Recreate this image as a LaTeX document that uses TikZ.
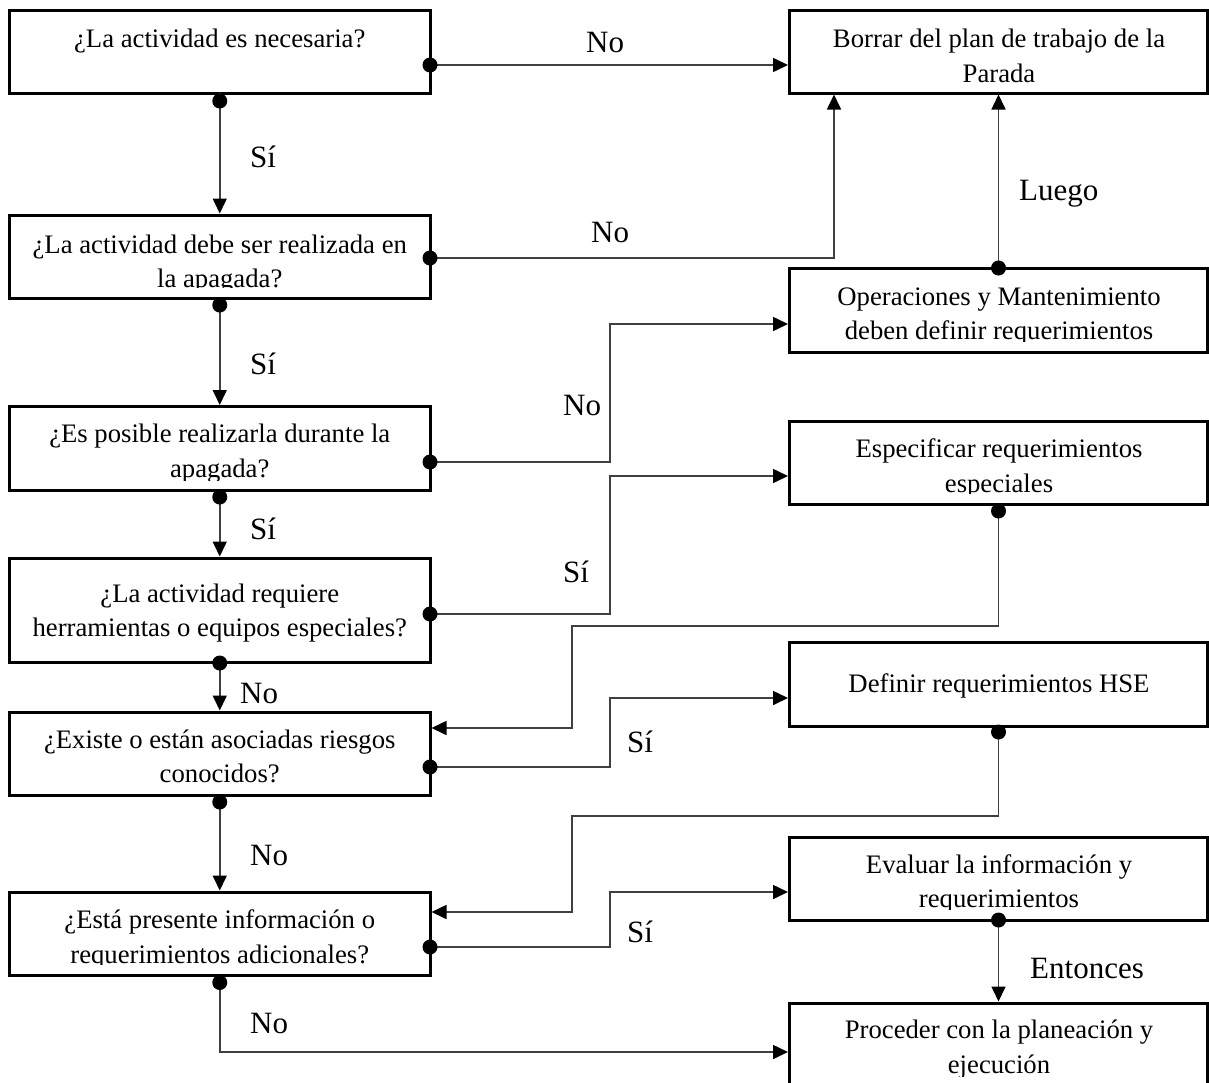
\documentclass[tikz,border=0pt]{standalone}
\usepackage{fontspec}
\setmainfont{Liberation Serif}
\usetikzlibrary{arrows.meta}

\begin{document}
\begin{tikzpicture}[x=1pt,y=1pt,
  flowbox/.style={draw=black, line width=3pt, inner sep=0pt, outer sep=0pt},
  qbox/.style={flowbox, minimum width=420.5pt},
  abox/.style={flowbox, minimum width=418pt},
  boxtext/.style={anchor=base, inner sep=0pt, font=\fontsize{26.7pt}{34pt}\selectfont},
  lbl/.style={anchor=base west, inner sep=0pt, font=\fontsize{31pt}{36pt}\selectfont},
  link/.style={draw=black!75, line width=1.6pt},
  conn/.style={link, shorten >=1.5pt, -{Triangle[length=15pt,width=14pt,color=black]}},
  dot/.style={fill=black},
]
\useasboundingbox (0,0) rectangle (1209,-1082);
\clip (0,0) rectangle (1209,-1082);

% ---------- question boxes (left column) ----------
\node[qbox, minimum height=83pt]  (q1) at (219.75,-51.5) {};
\node[qbox, minimum height=83pt]  (q2) at (219.75,-256.5) {};
\node[qbox, minimum height=84pt]  (q3) at (219.75,-448.5) {};
\node[qbox, minimum height=104pt] (q4) at (219.75,-610) {};
\node[qbox, minimum height=83pt]  (q5) at (219.75,-753.5) {};
\node[qbox, minimum height=83pt]  (q6) at (219.75,-933.5) {};

% ---------- action boxes (right column) ----------
\node[abox, minimum height=83pt] (r1) at (998.5,-51.5) {};
\node[abox, minimum height=84pt] (r2) at (998.5,-310) {};
\node[abox, minimum height=83pt] (r3) at (998.5,-462.5) {};
\node[abox, minimum height=84pt] (r4) at (998.5,-684) {};
\node[abox, minimum height=83pt] (r5) at (998.5,-878.5) {};
\node[abox, minimum height=84pt] (r6) at (998.5,-1045) {};

% ---------- box texts, clipped to the inner text area ----------
\begin{scope}
  \clip ([yshift=10.5pt]q1.south west) rectangle (q1.north east);
  \node[boxtext] (q1a) at (219.75,-47) {¿La actividad es necesaria?};
\end{scope}
\begin{scope}
  \clip ([yshift=10.5pt]q2.south west) rectangle (q2.north east);
  \node[boxtext] (q2a) at (219.75,-253) {¿La actividad debe ser realizada en};
  \node[boxtext] (q2b) at (219.75,-287) {la apagada?};
\end{scope}
\begin{scope}
  \clip ([yshift=10.5pt]q3.south west) rectangle (q3.north east);
  \node[boxtext] (q3a) at (219.75,-442) {¿Es posible realizarla durante la};
  \node[boxtext] (q3b) at (219.75,-477) {apagada?};
\end{scope}
\begin{scope}
  \clip ([yshift=10.5pt]q4.south west) rectangle (q4.north east);
  \node[boxtext] (q4a) at (219.75,-602) {¿La actividad requiere};
  \node[boxtext] (q4b) at (219.75,-636) {herramientas o equipos especiales?};
\end{scope}
\begin{scope}
  \clip ([yshift=10.5pt]q5.south west) rectangle (q5.north east);
  \node[boxtext] (q5a) at (219.75,-748) {¿Existe o están asociadas riesgos};
  \node[boxtext] (q5b) at (219.75,-782) {conocidos?};
\end{scope}
\begin{scope}
  \clip ([yshift=10.5pt]q6.south west) rectangle (q6.north east);
  \node[boxtext] (q6a) at (219.75,-928) {¿Está presente información o};
  \node[boxtext] (q6b) at (219.75,-963) {requerimientos adicionales?};
\end{scope}

\begin{scope}
  \clip ([yshift=10.5pt]r1.south west) rectangle (r1.north east);
  \node[boxtext] (r1a) at (999,-47) {Borrar del plan de trabajo de la};
  \node[boxtext] (r1b) at (999,-82) {Parada};
\end{scope}
\begin{scope}
  \clip ([yshift=10.5pt]r2.south west) rectangle (r2.north east);
  \node[boxtext] (r2a) at (999,-305) {Operaciones y Mantenimiento};
  \node[boxtext] (r2b) at (999,-339) {deben definir requerimientos};
\end{scope}
\begin{scope}
  \clip ([yshift=10.5pt]r3.south west) rectangle (r3.north east);
  \node[boxtext] (r3a) at (999,-457) {Especificar requerimientos};
  \node[boxtext] (r3b) at (999,-492) {especiales};
\end{scope}
\begin{scope}
  \clip ([yshift=10.5pt]r4.south west) rectangle (r4.north east);
  \node[boxtext] (r4a) at (999,-692) {Definir requerimientos HSE};
\end{scope}
\begin{scope}
  \clip ([yshift=10.5pt]r5.south west) rectangle (r5.north east);
  \node[boxtext] (r5a) at (999,-873) {Evaluar la información y};
  \node[boxtext] (r5b) at (999,-907) {requerimientos};
\end{scope}
\begin{scope}
  \clip ([yshift=10.5pt]r6.south west) rectangle (r6.north east);
  \node[boxtext] (r6a) at (999,-1038) {Proceder con la planeación y};
  \node[boxtext] (r6b) at (999,-1073) {ejecución};
\end{scope}

% ---------- connectors ----------
% main vertical chain
\draw[conn] (q1.south) -- (q2.north);
\draw[conn] (q2.south) -- (q3.north);
\draw[conn] (q3.south) -- (q4.north);
\draw[conn] (q4.south) -- (q5.north);
\draw[conn] (q5.south) -- (q6.north);
\draw[conn] (q6.south) |- ([yshift=-7pt]r6.west);

% branches to the right column
\draw[conn] ([yshift=-13.5pt]q1.east) -- ([yshift=-13.5pt]r1.west);
\draw[conn] ([yshift=-1.5pt]q2.east) -| ([xshift=-164.5pt]r1.south);
\draw[conn] (r2.north) -- (r1.south);
\draw[conn] ([yshift=-13.5pt]q3.east) -- ++(180,0) |- ([yshift=-14pt]r2.west);
\draw[conn] ([yshift=-4pt]q4.east) -- ++(180,0) |- ([yshift=-13.5pt]r3.west);
\draw[conn] ([yshift=-13.5pt]q5.east) -- ++(180,0) |- ([yshift=-14pt]r4.west);
\draw[conn] ([yshift=-13.5pt]q6.east) -- ++(180,0) |- ([yshift=-13.5pt]r5.west);
\draw[conn] (r5.south) -- (r6.north);

% returns from the right column
\draw[conn] (r3.south) -- ++(0,-122) -| ([xshift=142pt,yshift=25.5pt]q5.east) -- ([yshift=25.5pt]q5.east);
\draw[conn] (r4.south) -- ++(0,-90) -| ([xshift=142pt,yshift=21.5pt]q6.east) -- ([yshift=21.5pt]q6.east);

% ---------- start dots ----------
\fill[dot] ([yshift=-8pt]q1.south) circle (7.5pt);
\fill[dot] ([yshift=-7pt]q2.south) circle (7.5pt);
\fill[dot] ([yshift=-6.5pt]q3.south) circle (7.5pt);
\fill[dot] ([yshift=-1pt]q4.south) circle (7.5pt);
\fill[dot] ([yshift=-7pt]q5.south) circle (7.5pt);
\fill[dot] ([yshift=-7.5pt]q6.south) circle (7.5pt);
\fill[dot] ([yshift=-13.5pt]q1.east) circle (7.5pt);
\fill[dot] ([yshift=-1.5pt]q2.east) circle (7.5pt);
\fill[dot] ([yshift=-13.5pt]q3.east) circle (7.5pt);
\fill[dot] ([yshift=-4pt]q4.east) circle (7.5pt);
\fill[dot] ([yshift=-13.5pt]q5.east) circle (7.5pt);
\fill[dot] ([yshift=-13.5pt]q6.east) circle (7.5pt);
\fill[dot] (r2.north) circle (7.5pt);
\fill[dot] ([yshift=-7pt]r3.south) circle (7.5pt);
\fill[dot] ([yshift=-6pt]r4.south) circle (7.5pt);
\fill[dot] (r5.south) circle (7.5pt);

% ---------- connector labels ----------
\node[lbl] (l1)  at (586,-52)   {No};
\node[lbl] (l2)  at (250,-167)  {Sí};
\node[lbl] (l3)  at (1019,-200) {Luego};
\node[lbl] (l4)  at (591,-242)  {No};
\node[lbl] (l5)  at (250,-374)  {Sí};
\node[lbl] (l6)  at (563,-415)  {No};
\node[lbl] (l7)  at (250,-539)  {Sí};
\node[lbl] (l8)  at (563,-582)  {Sí};
\node[lbl] (l9)  at (240,-703)  {No};
\node[lbl] (l10) at (627,-752)  {Sí};
\node[lbl] (l11) at (250,-865)  {No};
\node[lbl] (l12) at (627,-942)  {Sí};
\node[lbl] (l13) at (1030,-978) {Entonces};
\node[lbl] (l14) at (250,-1033) {No};
\end{tikzpicture}
\end{document}
